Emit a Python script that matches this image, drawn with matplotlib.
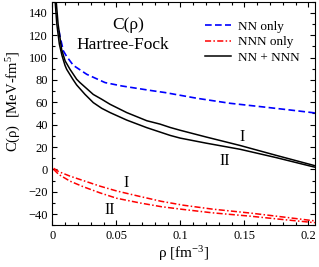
import numpy as np
import matplotlib
matplotlib.use("Agg")
import matplotlib.pyplot as plt

plt.rcParams['font.family'] = ['Liberation Serif', 'DejaVu Serif']
plt.rcParams['mathtext.fontset'] = 'custom'
plt.rcParams['mathtext.rm'] = 'Liberation Serif'
plt.rcParams['mathtext.it'] = 'Liberation Serif:italic'

# Data
rho_nn = [0.0052, 0.006, 0.0086, 0.0112, 0.0164, 0.0269, 0.0412, 0.0542, 0.0659,
          0.0777, 0.088, 0.1128, 0.1388, 0.165, 0.185, 0.205]
c_nn = [124, 119, 106, 101, 93, 85, 77.6, 74.6, 72.5, 70.4, 68.7, 63.6, 59.1,
        55.8, 53.2, 50.5]

rho_nnn_1 = [0.001, 0.005, 0.0138, 0.0242, 0.0373, 0.0503, 0.0685, 0.085, 0.1023,
             0.125, 0.1545, 0.18, 0.2013, 0.205]
c_nnn_1 = [1, -2, -6, -10, -15, -19.3, -24.2, -28.5, -32, -35.5, -39, -42.5, -45.5, -46]
rho_nnn_2 = [0.001, 0.005, 0.0138, 0.0242, 0.0373, 0.0503, 0.0685, 0.085, 0.1023,
             0.125, 0.1545, 0.18, 0.2013, 0.205]
c_nnn_2 = [0, -4.5, -10.5, -15.5, -21, -25.8, -30, -33.3, -35.8, -38.8, -41.8, -44.8,
           -47.2, -47.6]

rho_tot_1 = [0.0027, 0.0029, 0.0045, 0.0073, 0.0100, 0.0138, 0.019, 0.0216, 0.0269,
             0.032, 0.0386, 0.0451, 0.0581, 0.0738, 0.0841, 0.092, 0.0998, 0.12,
             0.1466, 0.175, 0.2035, 0.205]
c_tot_1 = [160, 152, 130, 107, 97, 89.5, 80.6, 77.6, 72.2, 67, 62.7, 58.2, 50.8,
           43.5, 40.5, 37.5, 35, 29, 21.4, 12.5, 3.8, 3.3]
rho_tot_2 = [0.0019, 0.0021, 0.0035, 0.0055, 0.0075, 0.0099, 0.0112, 0.016, 0.019,
             0.0255, 0.032, 0.0386, 0.0451, 0.0581, 0.0738, 0.092, 0.0998, 0.12,
             0.1466, 0.175, 0.2035, 0.205]
c_tot_2 = [160, 152, 130, 112, 102, 93, 89.5, 80.6, 75.5, 67.1, 59.7, 54.6, 50.8,
           44.1, 37.3, 30.4, 28, 23.5, 18, 10.5, 2.4, 2.0]

fig = plt.figure(figsize=(3.19, 2.67), dpi=100)
ax = fig.add_axes([0.164, 0.156, 0.823, 0.838])

ax.plot(rho_nn, c_nn, color='blue', lw=1.2, ls=(0, (4, 2)), label='NN only')
ax.plot(rho_nnn_1, c_nnn_1, color='red', lw=1.1, ls=(0, (4, 1.5, 1, 1.5)), label='NNN only')
ax.plot(rho_nnn_2, c_nnn_2, color='red', lw=1.1, ls=(0, (4, 1.5, 1, 1.5)))
ax.plot(rho_tot_1, c_tot_1, color='black', lw=1.1, label='NN + NNN')
ax.plot(rho_tot_2, c_tot_2, color='black', lw=1.1)

ax.set_xlim(0, 0.205)
ax.set_ylim(-50, 150)
ax.set_xticks([0, 0.05, 0.1, 0.15, 0.2])
ax.set_xticklabels(['0', '0.05', '0.1', '0.15', '0.2'])
ax.set_xticks(np.arange(0, 0.205, 0.01), minor=True)
ax.set_yticks([-40, -20, 0, 20, 40, 60, 80, 100, 120, 140])
ax.set_yticks(np.arange(-50, 151, 10), minor=True)
ax.tick_params(which='both', direction='in', top=True, right=True, labelsize=9, pad=3)
ax.tick_params(which='major', length=3.6, width=0.8)
ax.tick_params(which='minor', length=2, width=0.8)

ax.set_xlabel(r'ρ [fm$^{-3}$]', fontsize=11, labelpad=2)
ax.set_ylabel(r'C(ρ)  [MeV-fm$^5$]', fontsize=10.5)
ax.yaxis.set_label_coords(-0.112, 0.555)

ax.text(0.0595, 129, 'C(ρ)', fontsize=12.5, ha='center', va='center')
ax.text(0.0553, 111, 'Hartree-Fock', fontsize=12.5, ha='center', va='center')

ax.text(0.148, 28.6, 'I', fontsize=11.5, ha='center', va='center')
ax.text(0.135, 7.4, 'II', fontsize=11.5, ha='center', va='center')
ax.text(0.0576, -12, 'I', fontsize=11.5, ha='center', va='center')
ax.text(0.045, -36, 'II', fontsize=11.5, ha='center', va='center')

ax.legend(loc='upper right', frameon=False, fontsize=9.5, handlelength=1.9,
          handletextpad=0.6, labelspacing=0.25, borderaxespad=0.5,
          bbox_to_anchor=(0.989, 0.969))

fig.savefig('out.png', dpi=100)
